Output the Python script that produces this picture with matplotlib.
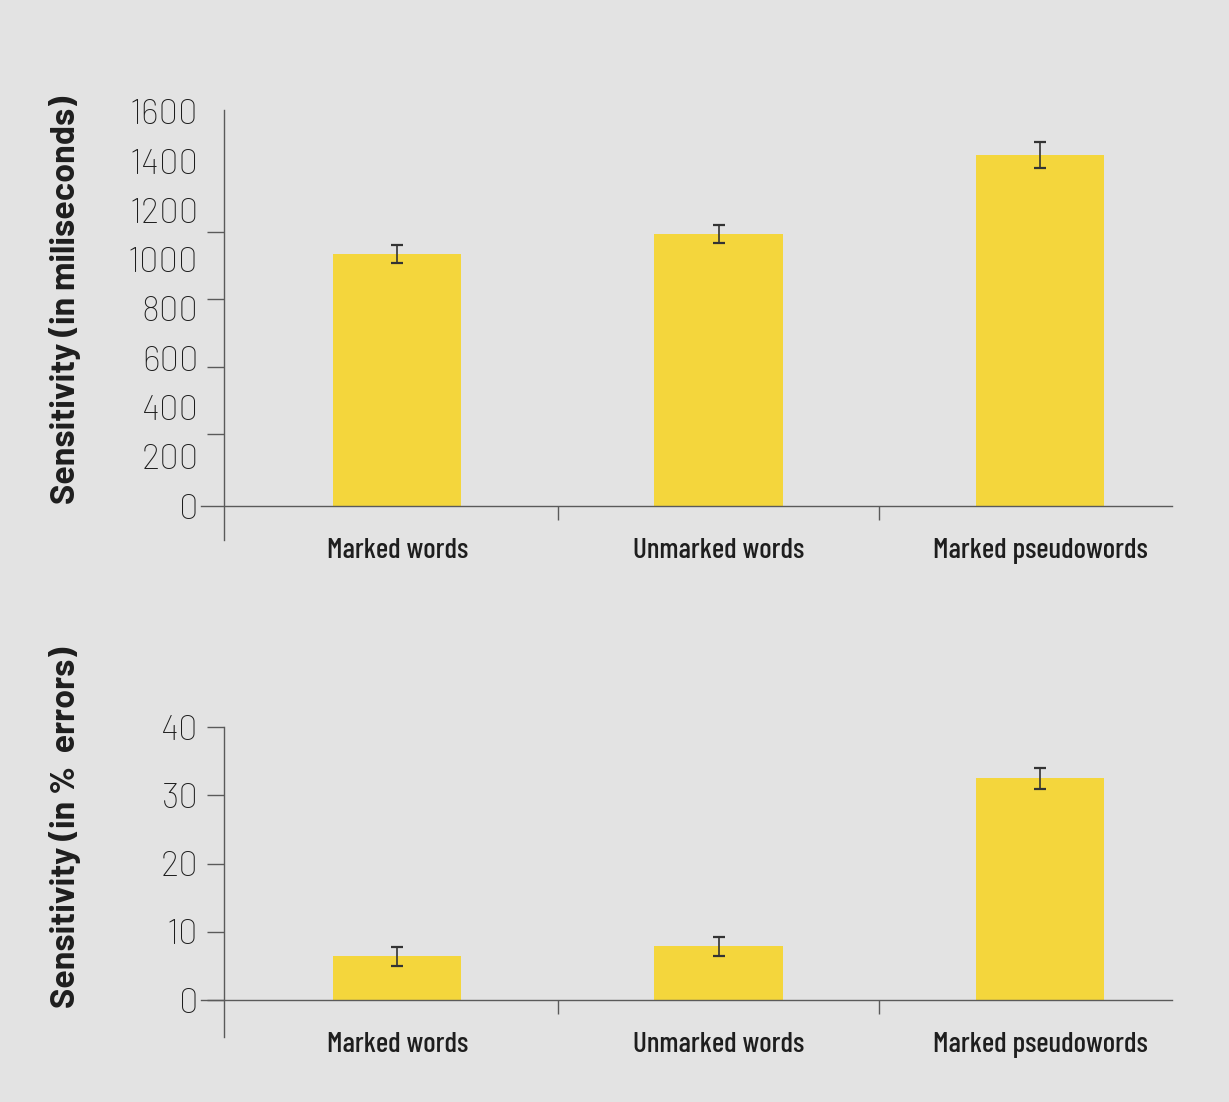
import matplotlib.pyplot as plt
import numpy as np

categories = ['Marked words', 'Unmarked words', 'Marked pseudowords']

# reaction times (ms) with error
rt_values = [1023, 1105, 1425]
rt_errors = [37, 37, 53]
rt_ticks = [0, 200, 400, 600, 800, 1000, 1200, 1400, 1600]
rt_marks = [292, 564, 841, 1112]

# error rates (%)
err_values = [6.4, 7.9, 32.5]
err_errors = [1.4, 1.4, 1.55]
err_ticks = [0, 10, 20, 30, 40]

bg = '#e3e3e3'
bar_color = '#f4d63c'
axis_color = '#5a5a5a'
text_color = '#1e1e1e'

label_font = ['Barlow Condensed', 'DejaVu Sans']
num_font = ['Barlow', 'DejaVu Sans']

fig = plt.figure(figsize=(12.29, 11.02), dpi=100, facecolor=bg)
W, H = 1229, 1102

def make_axes(top_px, bottom_px):
    return fig.add_axes([201 / W, 1 - bottom_px / H, (1172 - 201) / W, (bottom_px - top_px) / H])

x = np.arange(len(categories))

def style(ax, ylim):
    ax.set_facecolor(bg)
    ax.set_xlim(-0.61, 2.41)
    ax.set_ylim(*ylim)
    for s in ['top', 'right']:
        ax.spines[s].set_visible(False)
    ax.spines['left'].set_position(('data', -0.54))
    ax.spines['bottom'].set_position(('data', 0))
    for s in ['left', 'bottom']:
        ax.spines[s].set_color(axis_color)
        ax.spines[s].set_linewidth(1.0)
    ax.set_xticks(x)
    ax.set_xticklabels(categories, fontfamily=label_font, fontweight='medium',
                       fontsize=21, color=text_color)
    ax.set_xticks([0.5, 1.5], minor=True)
    ax.tick_params(axis='x', which='major', length=0, pad=23)
    ax.tick_params(axis='x', which='minor', length=10, width=1.0, color=axis_color, direction='out')

# top chart: reaction time
ax1 = make_axes(110, 540)
style(ax1, (-138, 1608))
ax1.bar(x, rt_values, width=0.40, color=bar_color, zorder=2)
ax1.errorbar(x, rt_values, yerr=rt_errors, fmt='none', ecolor='#333333',
             elinewidth=1.2, capsize=4, capthick=1.6, zorder=3)
ax1.set_yticks(rt_ticks)
ax1.set_yticklabels([str(t) for t in rt_ticks], fontfamily=num_font, fontweight='light',
                    fontsize=25, color=text_color)
ax1.set_yticks(rt_marks, minor=True)
ax1.tick_params(axis='y', which='major', length=0, pad=18)
ax1.tick_params(axis='y', which='minor', length=12, width=1.0, color=axis_color)
fig.text(65 / W, 1 - 300 / H, 'Sensitivity (in miliseconds)', rotation=90,
         ha='center', va='center', fontsize=24.5, fontweight='bold',
         fontfamily=num_font, color=text_color)

# bottom chart: error rate
ax2 = make_axes(727, 1037)
style(ax2, (-5.4, 40))
ax2.bar(x, err_values, width=0.40, color=bar_color, zorder=2)
ax2.errorbar(x, err_values, yerr=err_errors, fmt='none', ecolor='#333333',
             elinewidth=1.2, capsize=4, capthick=1.6, zorder=3)
ax2.set_yticks(err_ticks)
ax2.set_yticklabels([str(t) for t in err_ticks], fontfamily=num_font, fontweight='light',
                    fontsize=25, color=text_color)
ax2.tick_params(axis='y', which='major', length=12, width=1.0, color=axis_color, pad=6)
fig.text(65 / W, 1 - 827 / H, 'Sensitivity (in %  errors)', rotation=90,
         ha='center', va='center', fontsize=24.5, fontweight='bold',
         fontfamily=num_font, color=text_color)

fig.savefig('out.png', dpi=100, facecolor=bg)
